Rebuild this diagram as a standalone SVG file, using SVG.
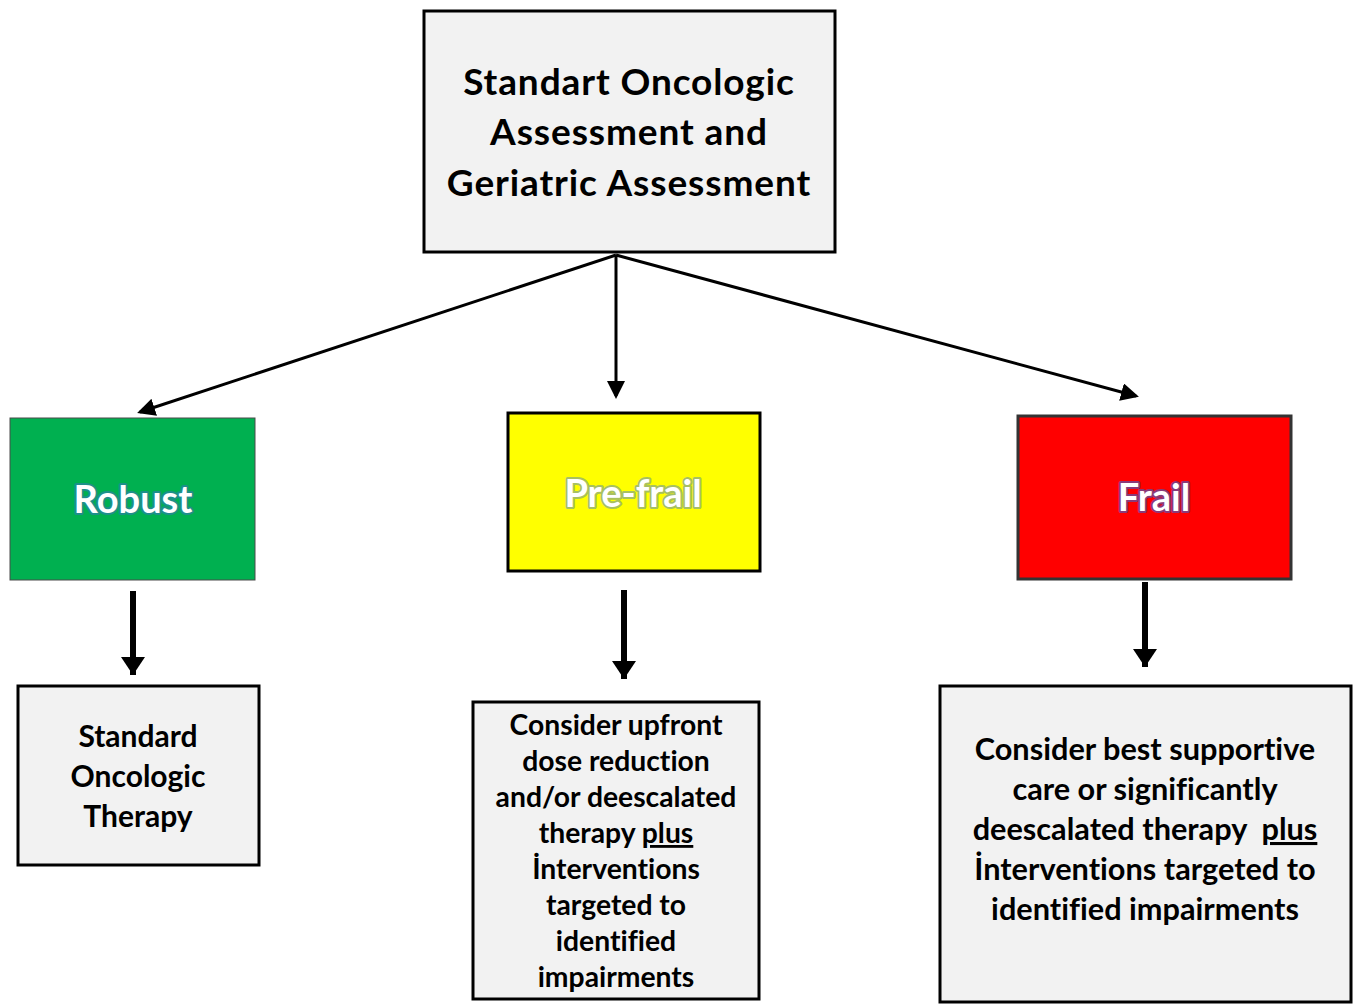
<svg xmlns="http://www.w3.org/2000/svg" width="1356" height="1005" viewBox="0 0 1356 1005">
<style>
.box{fill:#f2f2f2;stroke:#000;stroke-width:3}
.t{font-family:Lato,"Liberation Sans",sans-serif;font-weight:bold;fill:#000;text-anchor:middle;font-variant-ligatures:none}
.lbl{font-family:Lato,"Liberation Sans",sans-serif;font-weight:bold;fill:#fff;text-anchor:middle;font-size:38px;paint-order:stroke;stroke-width:4;stroke-linejoin:round}
.thin{stroke:#000;stroke-width:3;fill:none}
.thick{stroke:#000;stroke-width:6;fill:none}
</style>
<defs>
<marker id="ah" markerWidth="6" markerHeight="6" refX="5" refY="3" orient="auto" markerUnits="strokeWidth">
<path d="M0,0 L6,3 L0,6 z" fill="#000"/>
</marker>
<marker id="ah2" markerWidth="4" markerHeight="4" refX="3" refY="2" orient="auto" markerUnits="strokeWidth">
<path d="M0,0 L3,2 L0,4 z" fill="#000"/>
</marker>
</defs>
<rect width="1356" height="1005" fill="#fff"/>
<g id="connectors">
<line class="thin" x1="616" y1="255" x2="140" y2="412" marker-end="url(#ah)"/>
<line class="thin" x1="616" y1="255" x2="616" y2="396" marker-end="url(#ah)"/>
<line class="thin" x1="616" y1="255" x2="1136" y2="396" marker-end="url(#ah)"/>
<line class="thick" x1="133" y1="591" x2="133" y2="675" marker-end="url(#ah2)"/>
<line class="thick" x1="624" y1="590" x2="624" y2="679" marker-end="url(#ah2)"/>
<line class="thick" x1="1145" y1="582" x2="1145" y2="667" marker-end="url(#ah2)"/>
</g>
<g id="n-assess">
<rect class="box" x="424" y="11" width="411" height="241"/>
<text class="t" font-size="37" letter-spacing="0.9" x="629" y="95">Standart Oncologic</text>
<text class="t" font-size="37" letter-spacing="0.9" x="629" y="145">Assessment and</text>
<text class="t" font-size="37" letter-spacing="0.9" x="629" y="196">Geriatric Assessment</text>
</g>
<g id="n-robust">
<rect x="10" y="418" width="245" height="162" fill="#00b050" stroke="#4a4a4a" stroke-width="1"/>
<text class="lbl" x="133" y="513" stroke="#1e8f8a">Robust</text>
</g>
<g id="n-prefrail">
<rect x="508" y="413" width="252" height="158" fill="#ffff00" stroke="#000" stroke-width="3"/>
<text class="lbl" x="633" y="507" stroke="#a8c060">Pre-frail</text>
</g>
<g id="n-frail">
<rect x="1018" y="416" width="273" height="163" fill="#ff0000" stroke="#333" stroke-width="3"/>
<text class="lbl" x="1154" y="511" stroke="#8a3a7a">Frail</text>
</g>
<g id="n-standard">
<rect class="box" x="18" y="686" width="241" height="179"/>
<text class="t" font-size="30" x="138" y="747">Standard</text>
<text class="t" font-size="30" x="138" y="787">Oncologic</text>
<text class="t" font-size="30" x="138" y="827">Therapy</text>
</g>
<g id="n-upfront">
<rect class="box" x="473" y="702" width="286" height="297"/>
<text class="t" font-size="28.3" x="616" y="735">Consider upfront</text>
<text class="t" font-size="28.3" x="616" y="771">dose reduction</text>
<text class="t" font-size="28.3" x="616" y="807">and/or deescalated</text>
<text class="t" font-size="28.3" x="616" y="843">therapy <tspan text-decoration="underline">plus</tspan></text>
<text class="t" font-size="28.3" x="616" y="879">İnterventions</text>
<text class="t" font-size="28.3" x="616" y="915">targeted to</text>
<text class="t" font-size="28.3" x="616" y="951">identified</text>
<text class="t" font-size="28.3" x="616" y="987">impairments</text>
</g>
<g id="n-supportive">
<rect class="box" x="940" y="686" width="411" height="316"/>
<text class="t" font-size="30.7" x="1145" y="760">Consider best supportive</text>
<text class="t" font-size="30.7" x="1145" y="800">care or significantly</text>
<text class="t" font-size="30.7" x="1145" y="840" xml:space="preserve">deescalated therapy  <tspan text-decoration="underline">plus</tspan></text>
<text class="t" font-size="30.7" x="1145" y="880">İnterventions targeted to</text>
<text class="t" font-size="30.7" x="1145" y="920">identified impairments</text>
</g>
</svg>
